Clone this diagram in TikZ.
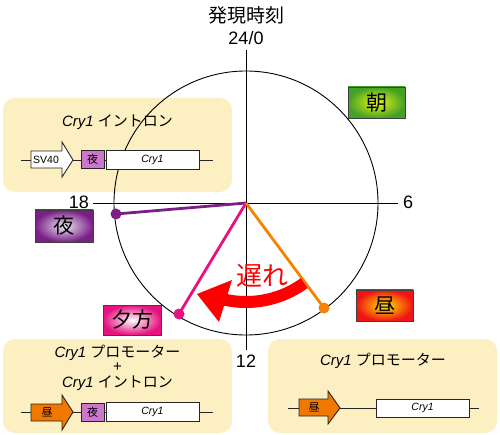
\documentclass[tikz,border=0pt]{standalone}
\usepackage{fontspec}
\setmainfont{Liberation Sans}
\newfontfamily\jp{Noto Sans CJK JP}
\definecolor{panel}{HTML}{FCEFC2}
\definecolor{nightc}{HTML}{7B1F86}
\definecolor{evec}{HTML}{E5127F}
\definecolor{dayc}{HTML}{F58200}
\definecolor{smallnight}{HTML}{CC77CC}
\definecolor{arroworange}{HTML}{F07800}
\tikzset{
  panelbox/.style={fill=panel, draw=none, rounded corners=12pt},
  axis/.style={draw=black, line width=0.8pt},
  lbl/.style={inner sep=0pt, font=\fontsize{18}{20}\selectfont},
  ptitle/.style={inner sep=0pt, font=\fontsize{15}{17}\selectfont, align=center},
  tagbox/.style={draw=black!75, line width=0.8pt, minimum width=57pt, minimum height=31pt, inner sep=0pt, shading=radial, font=\jp\fontsize{21}{23}\selectfont},
  hand/.style={line width=2.8pt},
  dot/.style={circle, inner sep=0pt, minimum size=11pt},
  gline/.style={draw=black!85, line width=0.9pt},
  gbox/.style={draw=black!85, line width=0.9pt},
  gtext/.style={inner sep=0pt, font=\fontsize{10.5}{12}\selectfont},
  jsmall/.style={font=\jp\fontsize{11}{12}\selectfont},
  ismall/.style={font=\itshape\fontsize{10.5}{12}\selectfont},
}
\begin{document}
\begin{tikzpicture}[x=1pt,y=-1pt]
\useasboundingbox (0,0) rectangle (500,435);
% panels
\path[panelbox] (3,98) rectangle (232,192);
\path[panelbox] (3,339) rectangle (232,433);
\path[panelbox] (268,339) rectangle (497,433);
% clock
\coordinate (c) at (246,203);
\draw[black, line width=0.9pt] (c) circle[radius=132pt];
\coordinate (t0) at (246,50);
\coordinate (t12) at (246,350);
\coordinate (t18) at (93,203);
\coordinate (t6) at (398,203);
\draw[axis] (t0) -- (t12);
\draw[axis] (t18) -- (t6);
\node[lbl, font=\jp\fontsize{19}{21}\selectfont] (title) at (246,15) {発現時刻};
\node[lbl] (l24) at (246,38) {24/0};
\node[lbl, anchor=east] (l18) at (89,202) {18};
\node[lbl, anchor=west] (l6) at (403,202) {6};
\node[lbl] (l12) at (246,361) {12};
% hands
\node[dot, fill=nightc] (dn) at (116,214) {};
\node[dot, fill=evec] (de) at (179,314) {};
\node[dot, fill=dayc] (dd) at (324,308) {};
\draw[hand, nightc] (c) -- (dn.center);
\draw[hand, evec] (c) -- (de.center);
\draw[hand, dayc] (c) -- (dd.center);
% delay arrow
\draw[red, line width=12pt] plot[domain=54:103, samples=40] ({246+99*cos(\x)},{203+99*sin(\x)});
\fill[red] (197,294) -- (232,280) -- (219,322) -- cycle;
\node[inner sep=0pt, text=red, font=\jp\fontsize{26}{28}\selectfont] (delay) at (262,276) {遅れ};
% tag boxes
\node[tagbox, inner color={rgb,255:red,230;green,250;blue,20}, outer color={rgb,255:red,70;green,160;blue,40}] (asa) at (376.5,102.5) {朝};
\node[tagbox, inner color={rgb,255:red,255;green,230;blue,0}, outer color={rgb,255:red,240;green,20;blue,20}] (hiru) at (384.5,305.5) {昼};
\node[tagbox, minimum width=58pt, minimum height=32pt, inner color={rgb,255:red,235;green,230;blue,245}, outer color=nightc] (yoru) at (64,226) {夜};
\node[tagbox, minimum width=58pt, minimum height=30pt, inner color=white, outer color=evec] (yugata) at (132,320) {夕方};
% top panel construct
\node[ptitle] (p1) at (117.5,122) {\itshape Cry1\upshape\ {\jp イントロン}};
\coordinate (a1) at (21,160);
\coordinate (b1) at (213,160);
\draw[gline] (a1) -- (b1);
\draw[gbox, fill=white] (31,151) -- (62,151) -- (62,142) -- (73,160) -- (62,177) -- (62,168) -- (31,168) -- cycle;
\node[gtext] (sv40) at (46,160) {SV40};
\node[gbox, fill=smallnight, minimum width=23pt, minimum height=18pt, inner sep=0pt, jsmall] (n1) at (92.5,159.5) {夜};
\node[gbox, fill=white, minimum width=93pt, minimum height=19pt, inner sep=0pt, ismall] (c1) at (152.5,159.5) {Cry1};
% bottom left construct
\node[ptitle] (p2) at (117.5,353) {\itshape Cry1\upshape\ {\jp プロモーター}};
\node[ptitle] (plus) at (117.5,367) {+};
\node[ptitle] (p3) at (117.5,383) {\itshape Cry1\upshape\ {\jp イントロン}};
\coordinate (a2) at (21,412);
\coordinate (b2) at (213,412);
\draw[gline] (a2) -- (b2);
\draw[gbox, fill=arroworange] (31,404) -- (62,404) -- (62,395) -- (73,412) -- (62,430) -- (62,421) -- (31,421) -- cycle;
\node[gtext, jsmall] (h2) at (47,412) {昼};
\node[gbox, fill=smallnight, minimum width=23pt, minimum height=18pt, inner sep=0pt, jsmall] (n2) at (92.5,412) {夜};
\node[gbox, fill=white, minimum width=93pt, minimum height=19pt, inner sep=0pt, ismall] (c2) at (152.5,412) {Cry1};
% bottom right construct
\node[ptitle] (p4) at (383,361) {\itshape Cry1\upshape\ {\jp プロモーター}};
\coordinate (a3) at (288,408);
\coordinate (b3) at (479,408);
\draw[gline] (a3) -- (b3);
\draw[gbox, fill=arroworange] (299,399) -- (328,399) -- (328,391) -- (340,408) -- (328,424) -- (328,416) -- (299,416) -- cycle;
\node[gtext, jsmall] (h3) at (314,407.5) {昼};
\node[gbox, fill=white, minimum width=93pt, minimum height=18pt, inner sep=0pt, ismall] (c3) at (422.5,408) {Cry1};
\end{tikzpicture}
\end{document}
